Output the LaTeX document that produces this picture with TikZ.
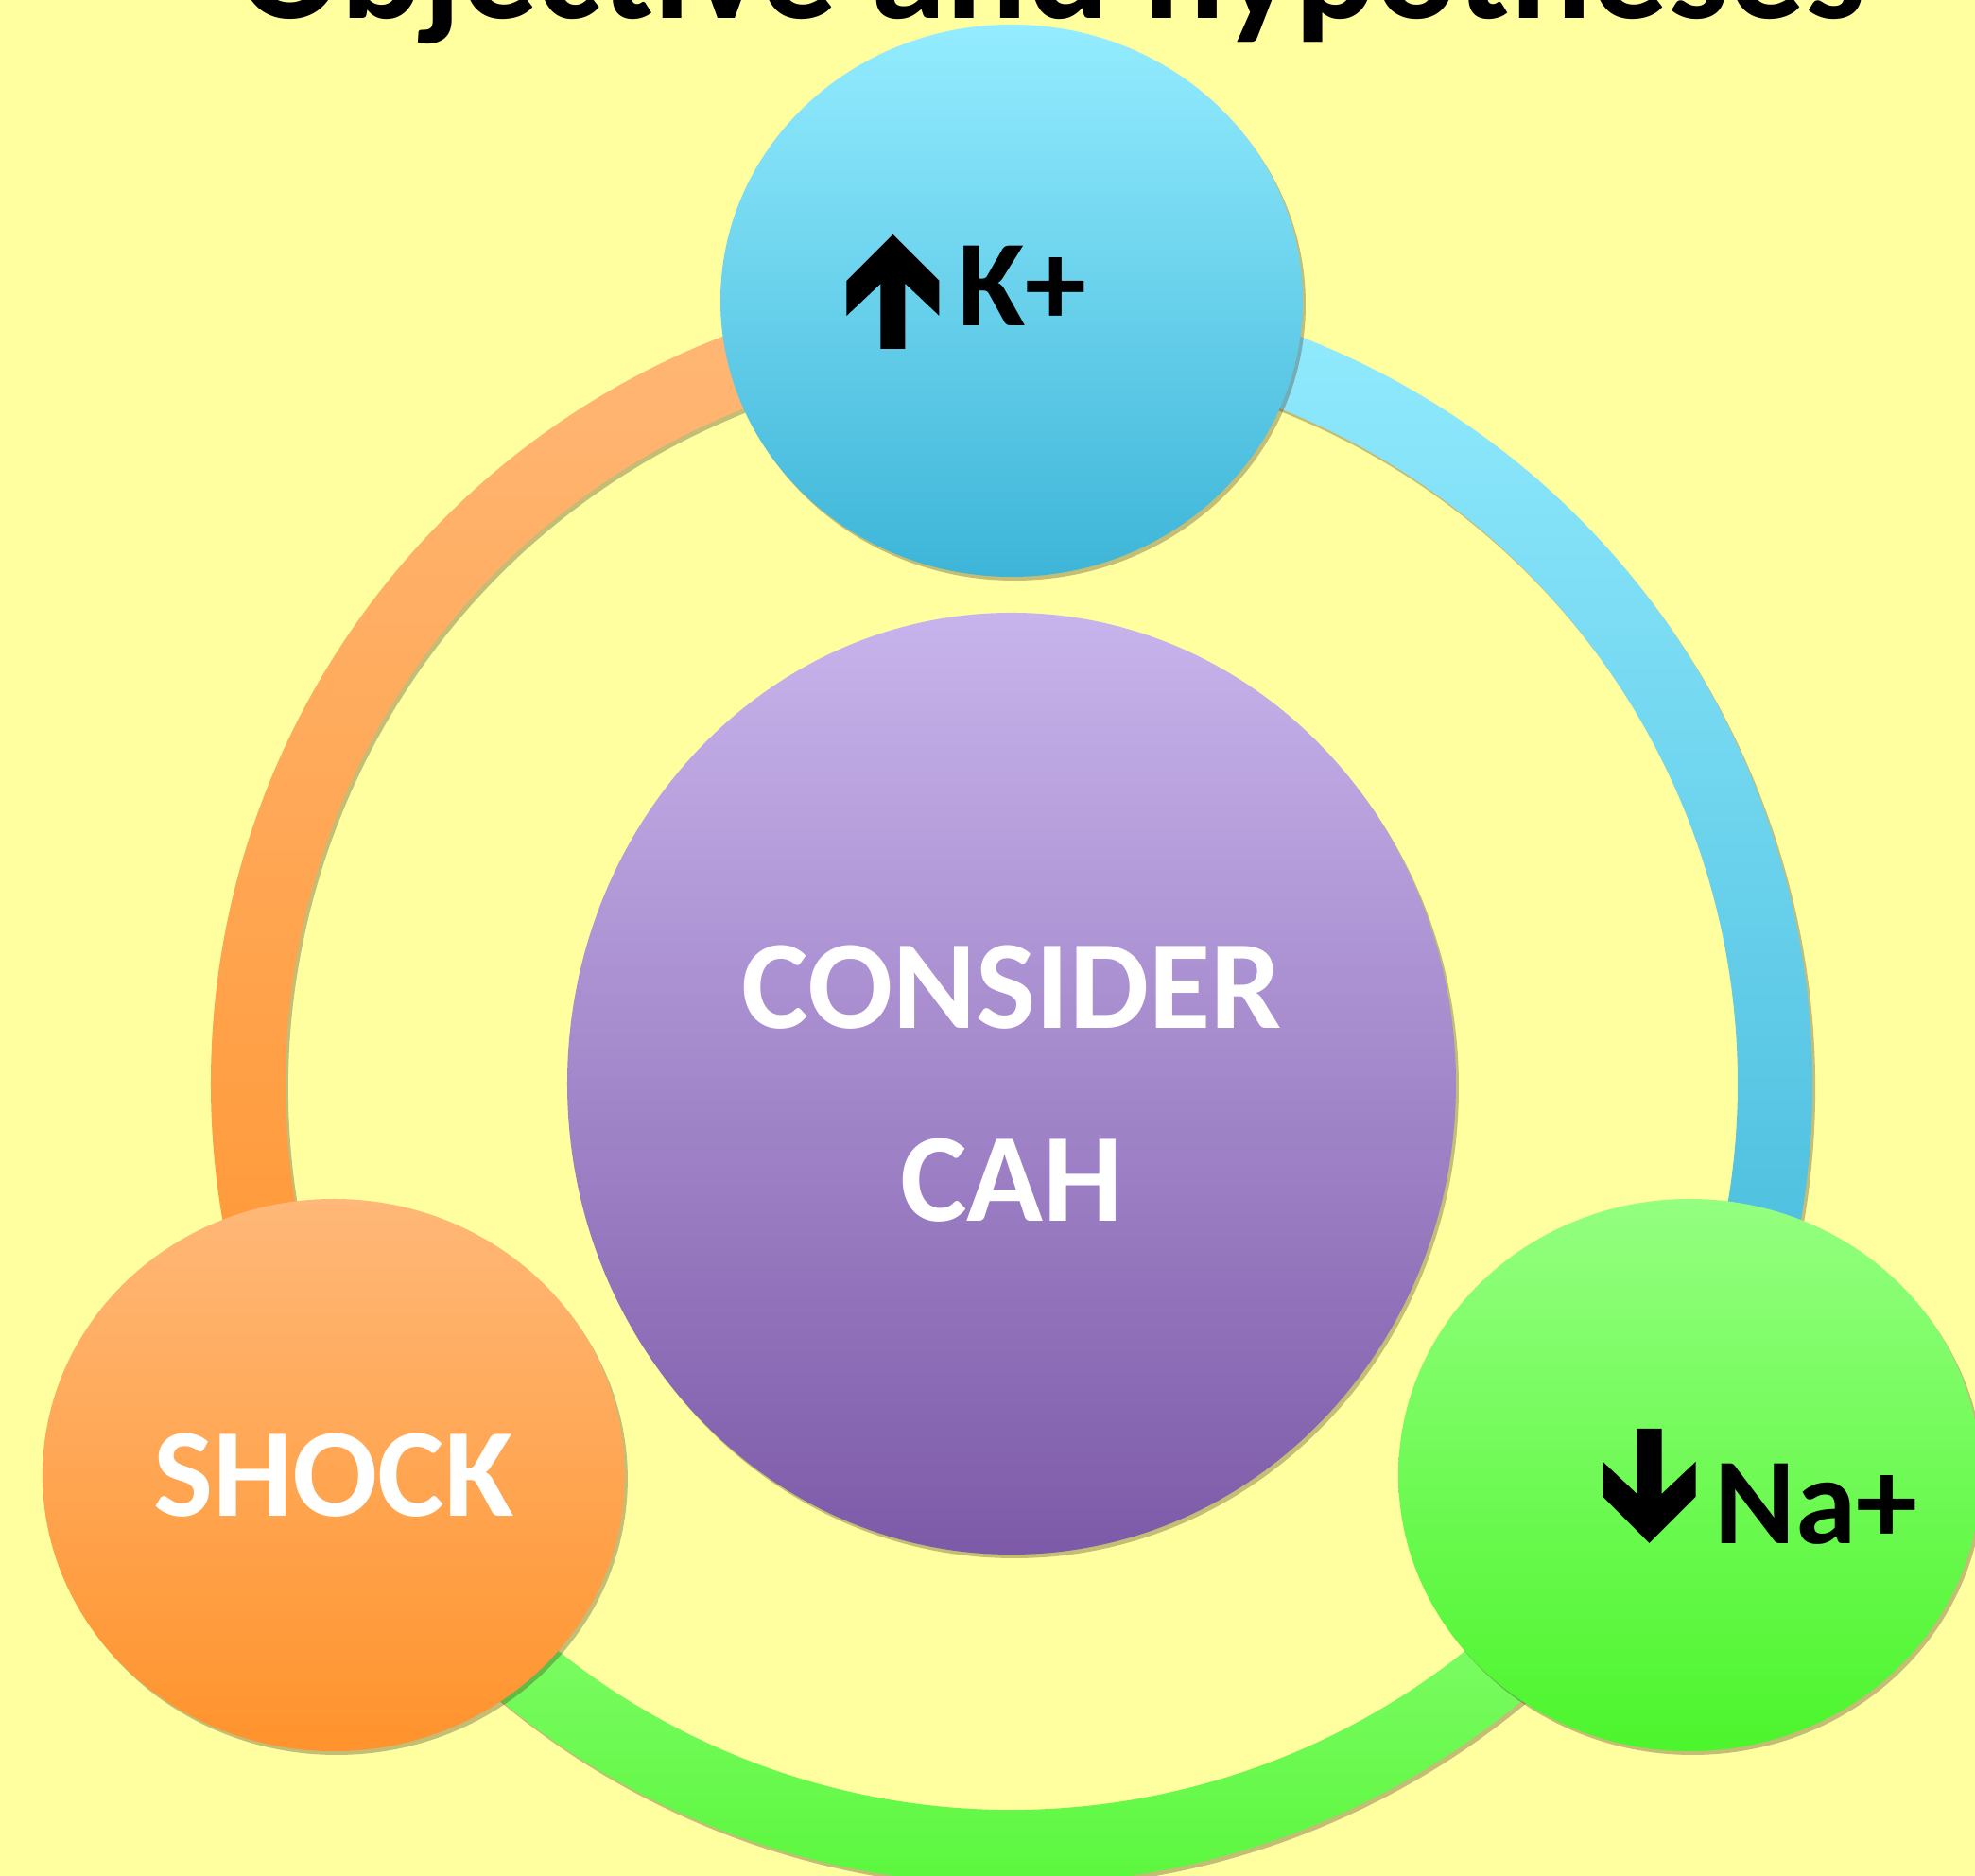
\documentclass[tikz,border=0pt]{standalone}
\usepackage{fontspec}
\setmainfont{Carlito}
\usetikzlibrary{shapes.geometric,shadows}

\definecolor{bgyellow}{RGB}{255,255,160}
\definecolor{klight}{RGB}{148,236,255}
\definecolor{kdark}{RGB}{61,181,216}
\definecolor{slight}{RGB}{255,184,120}
\definecolor{sdark}{RGB}{255,147,44}
\definecolor{nlight}{RGB}{148,255,128}
\definecolor{ndark}{RGB}{76,245,44}
\definecolor{clight}{RGB}{200,180,236}
\definecolor{cdark}{RGB}{125,90,168}

\tikzset{
	softshadow/.style={drop shadow={shadow xshift=0.03cm,shadow yshift=-0.04cm,opacity=0.3,fill=black!70!brown}},
	bubble/.style={ellipse,inner sep=0pt,minimum width=6.16cm,minimum height=5.84cm,softshadow},
	bigtext/.style={font=\fontsize{38}{58}\selectfont\bfseries,inner sep=0pt},
	iontext/.style={font=\fontsize{37}{44}\selectfont\bfseries,inner sep=0pt},
	ionarrow/.pic={
		\fill (-0.13,0) -- (-0.13,0.69) -- (-0.49,0.35) -- (-0.49,0.72) -- (0,1.21) -- (0.49,0.72) -- (0.49,0.35) -- (0.13,0.69) -- (0.13,0) -- cycle;
	}
}

\begin{document}
\begin{tikzpicture}
					\clip (-10.70,-8.38) rectangle (10.19,11.46);
					\fill[bgyellow] (-10.70,-8.38) rectangle (10.19,11.46);
					\node[anchor=base,font=\fontsize{45.7}{55}\selectfont\bfseries,inner sep=0pt] (T) at (0.43,11.26) {Objective and hypotheses};

					% ring pieces
					\shade[softshadow,top color=slight,bottom color=sdark] (90:8.47) arc[start angle=90,end angle=210,radius=8.47] -- (210:7.68) arc[start angle=210,end angle=90,radius=7.68] -- cycle;
					\shade[softshadow,top color=klight,bottom color=kdark] (-30:8.47) arc[start angle=-30,end angle=90,radius=8.47] -- (90:7.68) arc[start angle=90,end angle=-30,radius=7.68] -- cycle;
					\shade[softshadow,top color=nlight,bottom color=ndark] (210:8.47) arc[start angle=210,end angle=330,radius=8.47] -- (330:7.68) arc[start angle=330,end angle=210,radius=7.68] -- cycle;

					\node[bubble,top color=klight,bottom color=kdark] (K) at (90:8.28) {};
					\node[bubble,top color=slight,bottom color=sdark,bigtext,text=white] (S) at (210:8.28) {SHOCK};
					\node[bubble,top color=nlight,bottom color=ndark] (N) at (330:8.28) {};
					\node[bubble,minimum width=9.40cm,minimum height=9.96cm,top color=clight,bottom color=cdark,bigtext,text=white,align=center] (C) at (0,0) {CONSIDER\\CAH};

					\node[iontext,anchor=base west] (k) at (-0.57,8.01) {K+};
					\pic at (-1.255,7.77) {ionarrow};
					\node[iontext,anchor=base west] (na) at (7.43,-4.87) {Na+};
					\pic[rotate=180] at (6.745,-3.65) {ionarrow};
				\end{tikzpicture}
\end{document}
